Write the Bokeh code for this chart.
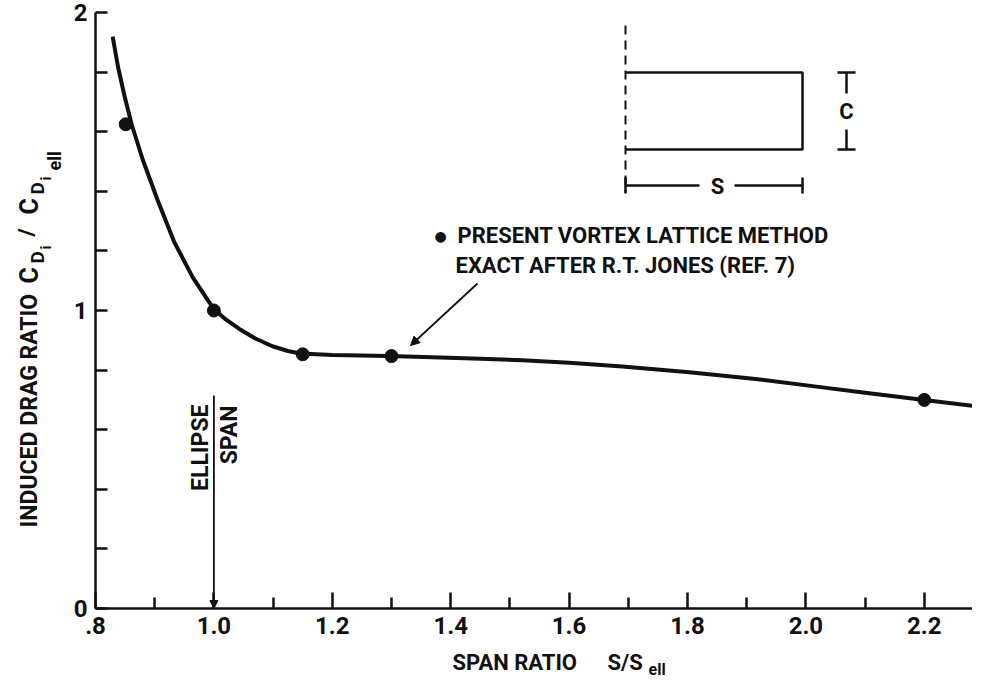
import math
from bokeh.plotting import figure
from bokeh.models import Range1d, FixedTicker, Label, Arrow, NormalHead
from bokeh.embed import file_html
from bokeh.resources import INLINE

# ---- data ----
curve_x = [0.829, 0.838, 0.849, 0.861, 0.880, 0.905, 0.933, 0.964, 0.986, 1.000,
           1.020, 1.043, 1.070, 1.099, 1.125, 1.146, 1.200, 1.295, 1.369, 1.450,
           1.521, 1.600, 1.690, 1.803, 1.915, 2.028, 2.100, 2.200, 2.293]
curve_y = [1.919, 1.818, 1.720, 1.625, 1.505, 1.370, 1.230, 1.112, 1.046, 1.005,
           0.970, 0.938, 0.906, 0.880, 0.864, 0.856, 0.851, 0.847, 0.843, 0.838,
           0.833, 0.825, 0.812, 0.793, 0.770, 0.742, 0.724, 0.700, 0.677]
points_x = [0.851, 1.000, 1.150, 1.300, 2.200]
points_y = [1.625, 1.000, 0.853, 0.847, 0.700]

x_ticks = [0.8, 1.0, 1.2, 1.4, 1.6, 1.8, 2.0, 2.2]
x_tick_labels = [".8", "1.0", "1.2", "1.4", "1.6", "1.8", "2.0", "2.2"]
x_minor = [0.9, 1.1, 1.3, 1.5, 1.7, 1.9, 2.1]
y_ticks = [0, 1, 2]
y_tick_labels = ["0", "1", "2"]
y_minor = [0.2, 0.4, 0.6, 0.8, 1.2, 1.4, 1.6, 1.8]

ellipse_span = 1.0

FONT = "Roboto"
INK = "#111111"

# ---- geometry (page pixels) ----
W, H = 972, 680
FL, FT, FB = 103, 20, 616          # axis origin / top on the page
X0 = 0.8
SX = 592.0                           # px per unit x
Y_MAX = 2.0
SY = (FB - FT) / Y_MAX


def X(px):
    return X0 + (px - FL) / SX


def Y(py):
    return (FB - py) / SY


p = figure(width=W, height=H, output_backend="svg", toolbar_location=None,
           x_range=Range1d(X(8), X(8 + W)), y_range=Range1d(Y(8 + H), Y(8)),
           min_border=0)
p.outline_line_color = None
p.grid.visible = False
p.background_fill_color = "white"
p.border_fill_color = "white"

p.xaxis.fixed_location = 0
p.xaxis.bounds = (X0, X(990))
p.yaxis.fixed_location = X0
p.yaxis.bounds = (0, Y_MAX)

for ax in (p.xaxis[0], p.yaxis[0]):
    ax.axis_line_width = 2.5
    ax.axis_line_color = INK
    ax.major_tick_line_width = 2.5
    ax.minor_tick_line_width = 2.5
    ax.major_tick_line_color = INK
    ax.minor_tick_line_color = INK
    ax.major_tick_out = 0
    ax.minor_tick_out = 0
    ax.major_label_text_font = FONT
    ax.major_label_text_font_style = "bold"
    ax.major_label_text_font_size = "24px"
    ax.major_label_text_color = INK

p.xaxis.ticker = FixedTicker(ticks=x_ticks, minor_ticks=x_minor)
p.xaxis.major_label_overrides = dict(zip(x_ticks, x_tick_labels))
p.xaxis.major_tick_in = 16
p.xaxis.minor_tick_in = 11
p.xaxis.major_label_standoff = 8

p.yaxis.ticker = FixedTicker(ticks=y_ticks, minor_ticks=y_minor)
p.yaxis.major_label_overrides = dict(zip(y_ticks, y_tick_labels))
p.yaxis.major_tick_in = 12
p.yaxis.minor_tick_in = 12
p.yaxis.major_label_standoff = 8
p.yaxis.major_label_orientation = "horizontal"

# curve and points
p.line(curve_x, curve_y, line_width=4, line_color=INK, line_join="round")
p.scatter(points_x, points_y, size=13, marker="circle", fill_color=INK, line_color=INK)


def lab(px, py, text, size=22, angle=0.0, align="left", font=FONT):
    p.add_layout(Label(x=X(px), y=Y(py), text=text, angle=angle,
                       text_font=font, text_font_style="bold",
                       text_font_size=f"{size}px", text_color=INK,
                       text_align=align, text_baseline="middle"))


UP = math.pi / 2

# y-axis title (rotated; x is the centre of the letters)
lab(37, 535, "INDUCED DRAG RATIO", 23, UP)
lab(37, 291, "C", 25, UP)
lab(45, 271, "D", 19, UP)
lab(53, 257, "i", 15, UP)
lab(34, 244, "/", 22, UP)
lab(37, 222, "C", 25, UP)
lab(45, 202, "D", 19, UP)
lab(53, 188, "i", 15, UP)
lab(62, 178, "ell", 18, UP)

# x-axis title
lab(460, 670, "SPAN RATIO", 22)
lab(615, 670, "S/S", 22)
lab(656, 677, "ell", 16)

# legend-like annotation
lab(448, 243, "\u25cf", 14, align="center", font="DejaVu Sans")
lab(465, 243, "PRESENT VORTEX LATTICE METHOD", 22)
lab(463, 273, "EXACT AFTER R.T. JONES (REF. 7)", 22)
p.add_layout(Arrow(x_start=X(485), y_start=Y(291), x_end=X(418), y_end=Y(353),
                   line_width=1.8, line_color=INK,
                   end=NormalHead(size=9, fill_color=INK, line_color=INK)))

# ellipse span marker
p.add_layout(Arrow(x_start=ellipse_span, y_start=Y(403), x_end=ellipse_span, y_end=0,
                   line_width=1.8, line_color=INK,
                   end=NormalHead(size=8, fill_color=INK, line_color=INK)))
lab(208, 412, "ELLIPSE", 23, UP, align="right")
lab(237, 413, "SPAN", 23, UP, align="right")

# planform sketch
p.segment(x0=[X(633)], y0=[Y(33)], x1=[X(633)], y1=[Y(200)],
          line_width=2, line_color=INK, line_dash="9 6")
p.multi_line(xs=[[X(633), X(810), X(810), X(633)]],
             ys=[[Y(80), Y(80), Y(157), Y(157)]], line_width=2.5, line_color=INK)
p.multi_line(xs=[[X(845), X(863)], [X(854), X(854)], [X(854), X(854)], [X(845), X(863)],
                 [X(633), X(707)], [X(742), X(810)], [X(633), X(633)], [X(810), X(810)]],
             ys=[[Y(80), Y(80)], [Y(80), Y(101)], [Y(137), Y(157)], [Y(157), Y(157)],
                 [Y(193), Y(193)], [Y(193), Y(193)], [Y(185), Y(201)], [Y(185), Y(201)]],
             line_width=2.5, line_color=INK)
lab(854, 119, "C", 22, align="center")
lab(725, 194, "S", 22, align="center")

open("out.html", "w").write(file_html(p, INLINE))
